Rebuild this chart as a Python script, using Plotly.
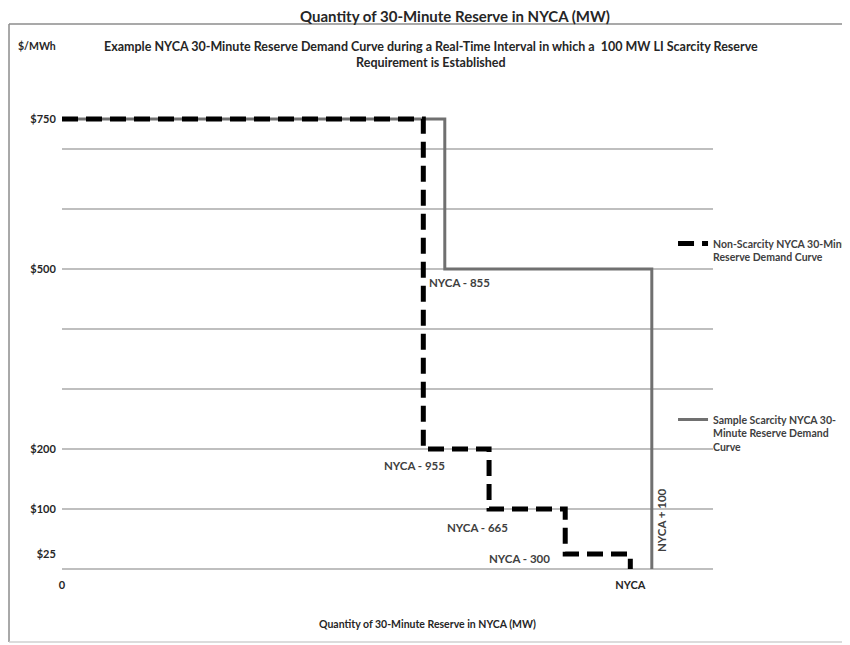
import plotly.graph_objects as go

# step curves (x in arbitrary MW units, NYCA at 873)
nonscarcity_x = [0, 555, 555, 656, 656, 773, 773, 873, 873]
nonscarcity_y = [750, 750, 200, 200, 100, 100, 25, 25, 0]
scarcity_x = [0, 588, 588, 906, 906]
scarcity_y = [750, 750, 500, 500, 0]

price_ticks = [25, 100, 200, 500, 750]
price_labels = ["$25", "$100", "$200", "$500", "$750"]
x_ticks = [0, 873]
x_labels = ["0", "NYCA"]

step_labels = ["NYCA - 855", "NYCA - 955", "NYCA - 665", "NYCA - 300"]

FONT = "Lato"
TXT = "#404040"
DARK = "#262626"

fig = go.Figure()

fig.add_trace(
    go.Scatter(
        x=scarcity_x,
        y=scarcity_y,
        mode="lines",
        name="<b>Sample Scarcity NYCA 30-<br>Minute Reserve Demand<br>Curve</b>",
        line=dict(color="#707070", width=3),
        legend="legend2",
        hoverinfo="skip",
    )
)

fig.add_trace(
    go.Scatter(
        x=nonscarcity_x,
        y=nonscarcity_y,
        mode="lines",
        name="<b>Non-Scarcity NYCA 30-Minute<br>Reserve Demand Curve</b>",
        line=dict(color="black", width=5, dash="16px,8px"),
        legend="legend",
        hoverinfo="skip",
    )
)

# labels along the steps
fig.add_annotation(x=611, y=477, text="<b>" + step_labels[0] + "</b>")
fig.add_annotation(x=542, y=172, text="<b>" + step_labels[1] + "</b>")
fig.add_annotation(x=639, y=70, text="<b>" + step_labels[2] + "</b>")
fig.add_annotation(x=703, y=17, text="<b>" + step_labels[3] + "</b>")
fig.add_annotation(x=922, y=82, text="<b>NYCA + 100</b>", textangle=-90)

fig.update_annotations(
    showarrow=False, xanchor="center", yanchor="middle",
    font=dict(family=FONT, size=11.5, color=TXT),
)

# titles
fig.add_annotation(
    xref="paper", yref="paper", x=0.604, y=1.152,
    text="<b>Quantity of 30-Minute Reserve in NYCA (MW)</b>",
    showarrow=False, xanchor="center", yanchor="middle",
    font=dict(family=FONT, size=15, color=DARK),
)
fig.add_annotation(
    xref="paper", yref="paper", x=-0.0384, y=1.0896,
    text="<b>$/MWh</b>", showarrow=False, xanchor="center", yanchor="middle",
    font=dict(family=FONT, size=10.5, color=DARK),
)
fig.add_annotation(
    xref="paper", yref="paper", x=0.567, y=1.071,
    text="<b>Example NYCA 30-Minute Reserve Demand Curve during a Real-Time Interval in which a  100 MW LI Scarcity Reserve"
         "<br>Requirement is Established</b>",
    showarrow=False, xanchor="center", yanchor="middle",
    font=dict(family=FONT, size=12.5, color=DARK),
)
fig.add_annotation(
    xref="paper", yref="paper", x=0.561, y=-0.1146,
    text="<b>Quantity of 30-Minute Reserve in NYCA (MW)</b>",
    showarrow=False, xanchor="center", yanchor="middle",
    font=dict(family=FONT, size=10.5, color=DARK),
)

# chart frame (top, left, bottom edges; right edge is off the page)
frame = dict(color="#8c8c8c", width=1.5)
fig.add_shape(type="line", xref="paper", yref="paper",
              x0=-0.0814, x1=1.25, y0=1.1354, y1=1.1354, line=frame)
fig.add_shape(type="line", xref="paper", yref="paper",
              x0=-0.0814, x1=-0.0814, y0=-0.152, y1=1.1354, line=frame)
fig.add_shape(type="line", xref="paper", yref="paper",
              x0=-0.0814, x1=1.25, y0=-0.152, y1=-0.152,
              line=dict(color="#d0d0d0", width=1.5))

# page body has an 8px margin, so the figure is 8px smaller each way
fig.update_layout(
    width=842,
    height=637,
    plot_bgcolor="white",
    paper_bgcolor="white",
    margin=dict(l=54, r=137, t=81, b=76, autoexpand=False),
    font=dict(family=FONT, size=11, color=TXT),
    xaxis=dict(
        range=[0, 1000],
        showgrid=False,
        zeroline=False,
        tickvals=x_ticks,
        ticktext=["<b>" + t + "</b>" for t in x_labels],
        ticks="outside", ticklen=6, tickcolor="rgba(0,0,0,0)",
        tickfont=dict(family=FONT, size=11, color=DARK),
    ),
    yaxis=dict(
        range=[0, 800],
        dtick=100,
        showgrid=True,
        gridcolor="#bfbfbf",
        gridwidth=1.5,
        zeroline=True,
        zerolinecolor="#bfbfbf",
        zerolinewidth=1.5,
        showticklabels=False,
    ),
    yaxis2=dict(
        overlaying="y",
        range=[0, 800],
        side="left",
        showgrid=False,
        zeroline=False,
        tickvals=price_ticks,
        ticktext=["<b>" + t + "</b>" for t in price_labels],
        ticks="outside", ticklen=3, tickcolor="rgba(0,0,0,0)",
        tickfont=dict(family=FONT, size=11, color=DARK),
    ),
    legend=dict(
        x=0.9386, y=0.706, xanchor="left", yanchor="top",
        bgcolor="rgba(0,0,0,0)", valign="top",
        font=dict(family=FONT, size=10.5, color=TXT),
    ),
    legend2=dict(
        x=0.9386, y=0.339, xanchor="left", yanchor="top",
        bgcolor="rgba(0,0,0,0)", valign="top",
        font=dict(family=FONT, size=10.5, color=TXT),
    ),
)

# dummy trace to show price labels on the overlay axis
fig.add_trace(
    go.Scatter(x=[None], y=[None], yaxis="y2", showlegend=False, hoverinfo="skip")
)

fig.write_html("out.html")
